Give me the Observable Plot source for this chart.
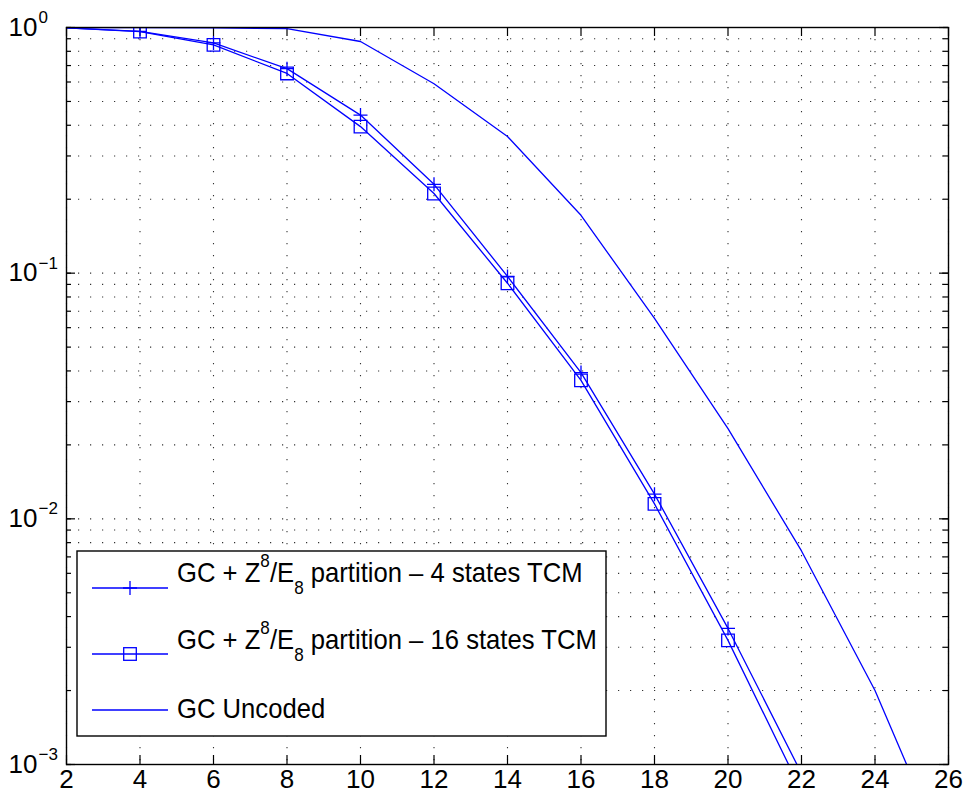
<!DOCTYPE html>
<html>
<head>
<meta charset="utf-8">
<script src="https://cdn.jsdelivr.net/npm/d3@7"></script>
<script src="https://cdn.jsdelivr.net/npm/@observablehq/plot@0.6"></script>
<style>
  html, body { margin: 0; padding: 0; background: #fff; }
  svg { display: block; }
</style>
</head>
<body>
<div id="chart"></div>
<script>
// ---- data ----
const snr = [2, 4, 6, 8, 10, 12, 14, 16, 18, 20, 22];
const tcm4 = [0.997, 0.965, 0.865, 0.68, 0.44, 0.23, 0.097, 0.0394, 0.0126, 0.00358, 0.00092];
const tcm16 = [0.997, 0.962, 0.85, 0.65, 0.395, 0.211, 0.091, 0.0366, 0.0115, 0.0032, 0.00078];
const snrUncoded = [2, 4, 6, 8, 10, 12, 14, 16, 18, 20, 22, 24, 26];
const uncoded = [0.9995, 0.999, 0.997, 0.99, 0.877, 0.59, 0.36, 0.172, 0.0654, 0.0233, 0.0074, 0.002, 0.0004];
const xTicks = [2, 4, 6, 8, 10, 12, 14, 16, 18, 20, 22, 24, 26];
const yTicks = [0.001, 0.01, 0.1, 1];
const yTickExponents = ["\u22123", "\u22122", "\u22121", "0"];
const seriesNames = [
  ["GC + Z", "8", "/E", "8", " partition \u2013 4 states TCM"],
  ["GC + Z", "8", "/E", "8", " partition \u2013 16 states TCM"],
  ["GC Uncoded"]
];

// ---- derived tables ----
const rows4 = snr.map((x, i) => ({x, y: tcm4[i]}));
const rows16 = snr.map((x, i) => ({x, y: tcm16[i]}));
const rowsU = snrUncoded.map((x, i) => ({x, y: uncoded[i]}));
const markerRows4 = rows4.filter(d => d.x >= 4);
const markerRows16 = rows16.filter(d => d.x >= 4);
const yMinor = [];
for (const dec of [0.001, 0.01, 0.1]) for (let k = 1; k <= 9; k++) yMinor.push(k * dec);
yMinor.push(1);

const BLUE = "#0000ff";
const FONT = "'Liberation Sans', Arial, Helvetica, sans-serif";
const W = 963, H = 803, mL = 66, mR = 15, mT = 27, mB = 39;
const innerW = W - mL - mR, innerH = H - mT - mB;

const plusSymbol = {
  draw(ctx, size) {
    const h = Math.sqrt(size / Math.PI);
    ctx.moveTo(-h, 0); ctx.lineTo(h, 0);
    ctx.moveTo(0, -h); ctx.lineTo(0, h);
  }
};
const squareSymbol = {
  draw(ctx, size) {
    const h = Math.sqrt(size / Math.PI);
    ctx.rect(-h, -h, 2 * h, 2 * h);
  }
};

const gridStyle = {stroke: "#000", strokeOpacity: 0.8, strokeDasharray: "1.2,10.8", strokeWidth: 1.1};

const chart = Plot.plot({
  width: W, height: H,
  marginLeft: mL, marginRight: mR, marginTop: mT, marginBottom: mB,
  style: {fontFamily: FONT, background: "#fff", color: "#000", overflow: "visible"},
  x: {domain: [2, 26], axis: null},
  y: {type: "log", domain: [0.001, 1], axis: null},
  marks: [
    Plot.ruleY(yMinor, {y: d => d, ...gridStyle}),
    Plot.ruleX(xTicks, {x: d => d, ...gridStyle}),
    // ticks inside the box
    Plot.tickX(xTicks, {x: d => d, insetTop: innerH - 9, stroke: "#000", strokeWidth: 1.2}),
    Plot.tickX(xTicks, {x: d => d, insetBottom: innerH - 9, stroke: "#000", strokeWidth: 1.2}),
    Plot.tickY(yMinor, {y: d => d, insetLeft: innerW - 5, stroke: "#000", strokeWidth: 1.2}),
    Plot.tickY(yMinor, {y: d => d, insetRight: innerW - 5, stroke: "#000", strokeWidth: 1.2}),
    Plot.tickY(yTicks, {y: d => d, insetLeft: innerW - 9, stroke: "#000", strokeWidth: 1.2}),
    Plot.tickY(yTicks, {y: d => d, insetRight: innerW - 9, stroke: "#000", strokeWidth: 1.2}),
    // series
    Plot.line(rowsU, {x: "x", y: "y", stroke: BLUE, strokeWidth: 1.3, clip: true}),
    Plot.line(rows4, {x: "x", y: "y", stroke: BLUE, strokeWidth: 1.3, clip: true}),
    Plot.line(rows16, {x: "x", y: "y", stroke: BLUE, strokeWidth: 1.3, clip: true}),
    Plot.dot(markerRows4, {x: "x", y: "y", symbol: plusSymbol, r: 7, stroke: BLUE, fill: "none", strokeWidth: 1.3, clip: true}),
    Plot.dot(markerRows16, {x: "x", y: "y", symbol: squareSymbol, r: 6.3, stroke: BLUE, fill: "none", strokeWidth: 1.3, clip: true}),
    Plot.frame({stroke: "#000", strokeWidth: 1.4}),
    // tick labels
    Plot.text(xTicks, {x: d => d, frameAnchor: "bottom", dy: 23, text: d => String(d), fontSize: 26, fill: "#000"}),
    Plot.text(yTicks, {y: d => d, frameAnchor: "left", dx: -29, textAnchor: "end", text: () => "10", fontSize: 26, fill: "#000"}),
    Plot.text(yTicks, {y: d => d, frameAnchor: "left", dx: -28, dy: -10, textAnchor: "start", text: (d, i) => yTickExponents[i], fontSize: 17, fill: "#000"})
  ]
});

// ---- legend inside the plot box ----
const svg = d3.select(chart);
const lg = svg.append("g").attr("font-family", FONT).attr("text-anchor", "start");
const box = {x: 77, y: 551, w: 529, h: 185};
lg.append("rect").attr("x", box.x).attr("y", box.y).attr("width", box.w).attr("height", box.h)
  .attr("fill", "#fff").attr("stroke", "#000").attr("stroke-width", 1.4);
const rowLineY = [588, 654, 710];
const rowBase = [582, 649, 718];
const markers = ["plus", "square", null];
seriesNames.forEach((parts, i) => {
  const ly = rowLineY[i];
  lg.append("line").attr("x1", 92).attr("x2", 168).attr("y1", ly).attr("y2", ly)
    .attr("stroke", BLUE).attr("stroke-width", 1.3);
  if (markers[i] === "plus") {
    lg.append("path").attr("d", `M${130 - 7},${ly}H${130 + 7}M130,${ly - 7}V${ly + 7}`)
      .attr("stroke", BLUE).attr("stroke-width", 1.3).attr("fill", "none");
  } else if (markers[i] === "square") {
    lg.append("rect").attr("x", 130 - 6.3).attr("y", ly - 6.3).attr("width", 12.6).attr("height", 12.6)
      .attr("stroke", BLUE).attr("stroke-width", 1.3).attr("fill", "none");
  }
  const t = lg.append("text").attr("x", 0).attr("y", 0)
    .attr("transform", `translate(177,${rowBase[i]}) scale(0.95,1)`)
    .attr("font-size", 27).attr("fill", "#000").attr("text-anchor", "start");
  if (parts.length === 1) {
    t.text(parts[0]);
  } else {
    t.append("tspan").text(parts[0]);
    t.append("tspan").attr("dy", -15).attr("font-size", 18).text(parts[1]);
    t.append("tspan").attr("dy", 15).text(parts[2]);
    t.append("tspan").attr("dy", 12).attr("font-size", 18).text(parts[3]);
    t.append("tspan").attr("dy", -12).text(parts[4]);
  }
});

document.getElementById("chart").appendChild(chart);
</script>
</body>
</html>
